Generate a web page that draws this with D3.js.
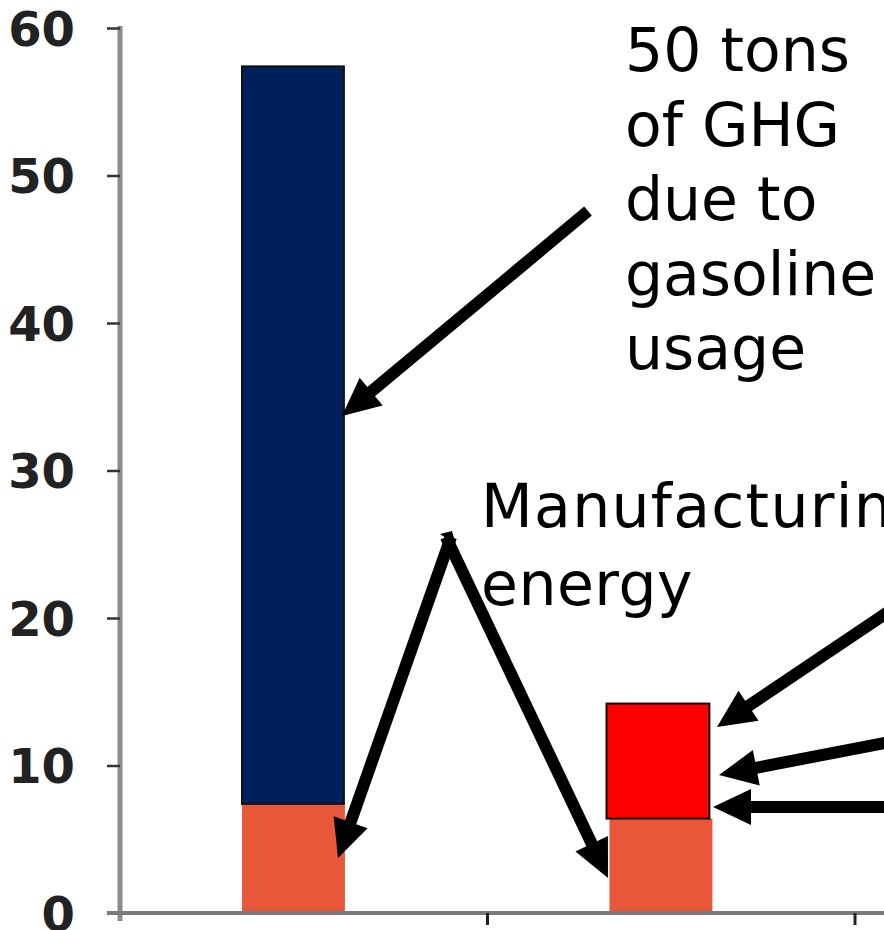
<!DOCTYPE html>
<html>
<head>
<meta charset="utf-8">
<script src="https://cdn.jsdelivr.net/npm/d3@7"></script>
<style>
  html, body { margin: 0; padding: 0; background: #fff; }
  svg { display: block; }
</style>
</head>
<body>
<svg id="chart" width="884" height="930"></svg>
<script>
// Lifetime greenhouse-gas emissions (tons), by vehicle
const categories = ["Gasoline car", "Electric car"];
const manufacturing = [7.4, 6.4];   // manufacturing energy
const gasoline = [50, 0];           // gasoline usage
const electricity = [0, 7.8];       // electricity generation
const yTicks = [0, 10, 20, 30, 40, 50, 60];

const svg = d3.select("#chart");
const W = 884, H = 930;
const margin = { left: 120, top: 28, bottom: 17 };
const y0 = H - margin.bottom;

const x = d3.scaleBand().domain(categories).range([margin.left, 855]);
const y = d3.scaleLinear().domain([0, 60]).range([y0, margin.top]);

const bw = x.bandwidth();
const barX = c => x(c) + bw * 0.332;
const barW = bw * 0.28;

// Stacked bars
const g = svg.append("g");
categories.forEach((c, i) => {
  const m = manufacturing[i], gs = gasoline[i], el = electricity[i];
  g.append("rect")
    .attr("x", barX(c)).attr("width", barW)
    .attr("y", y(m)).attr("height", y(0) - y(m))
    .attr("fill", "#E8573A");
  if (gs > 0) {
    g.append("rect")
      .attr("x", barX(c)).attr("width", barW - 1)
      .attr("y", y(m + gs)).attr("height", y(m) - y(m + gs))
      .attr("fill", "#00205C").attr("stroke", "#111").attr("stroke-width", 2);
  }
  if (el > 0) {
    g.append("rect")
      .attr("x", barX(c) - 3).attr("width", barW)
      .attr("y", y(m + el)).attr("height", y(m) - y(m + el))
      .attr("fill", "#FF0000").attr("stroke", "#111").attr("stroke-width", 2);
  }
});

// Y axis
const yAxis = d3.axisLeft(y).tickValues(yTicks).tickSize(13).tickPadding(32).tickFormat(d3.format("d"));
const ya = svg.append("g").attr("transform", `translate(${margin.left},0)`).call(yAxis);
ya.select(".domain").attr("stroke", "#8a8a8a").attr("stroke-width", 5)
  .attr("d", `M0,${margin.top - 2}V${y0 + 8}`);
ya.selectAll(".tick line").attr("stroke", "#333").attr("stroke-width", 2.5);
ya.selectAll(".tick text")
  .attr("fill", "#222")
  .style("font-family", "DejaVu Sans")
  .style("font-weight", "bold")
  .style("font-size", "48px")
  .attr("dy", "0.36em");

// X axis: category boundary ticks, labels lie outside the view
const boundaries = [x(categories[1]), x(categories[1]) + bw];
const xa = svg.append("g");
xa.append("line").attr("x1", margin.left - 13).attr("x2", W)
  .attr("y1", y0).attr("y2", y0).attr("stroke", "#7a7a7a").attr("stroke-width", 4);
xa.selectAll("line.tk").data(boundaries).join("line").attr("class", "tk")
  .attr("x1", d => d).attr("x2", d => d).attr("y1", y0).attr("y2", y0 + 12)
  .attr("stroke", "#222").attr("stroke-width", 3);

// Annotations
const textStyle = sel => sel.attr("fill", "#000")
  .style("font-family", "DejaVu Sans").style("font-size", "60px");

const gasText = ["50 tons", "of GHG", "due to", "gasoline", "usage"];
svg.append("g").selectAll("text").data(gasText).join("text")
  .attr("x", 625).attr("y", (d, i) => 71 + i * 74.5).text(d => d).call(textStyle);

const mfgText = ["Manufacturing", "energy"];
svg.append("g").selectAll("text").data(mfgText).join("text")
  .attr("x", 481).attr("y", (d, i) => 527 + i * 78).text(d => d).call(textStyle)
  .style("letter-spacing", (d, i) => i === 0 ? "1.3px" : "0.5px");

function arrow(x1, y1, x2, y2) {
  const a = Math.atan2(y2 - y1, x2 - x1);
  const len = 38, hw = 18;
  const bx = x2 - len * Math.cos(a), by = y2 - len * Math.sin(a);
  const px = -Math.sin(a) * hw, py = Math.cos(a) * hw;
  const ag = svg.append("g");
  ag.append("line").attr("x1", x1).attr("y1", y1)
    .attr("x2", bx + 2 * Math.cos(a)).attr("y2", by + 2 * Math.sin(a))
    .attr("stroke", "#000").attr("stroke-width", 12);
  ag.append("path")
    .attr("d", `M${x2},${y2}L${bx + px},${by + py}L${bx - px},${by - py}Z`)
    .attr("fill", "#000");
}

arrow(588, 211, 342, 416);
arrow(451, 537, 338, 858);
arrow(446, 537, 608, 878);
svg.append("path").attr("d", "M440,534L452,531L456,545Z").attr("fill", "#000");
arrow(900, 604, 717, 727);
arrow(900, 740, 719, 775);
arrow(900, 807, 713, 807);
</script>
</body>
</html>
